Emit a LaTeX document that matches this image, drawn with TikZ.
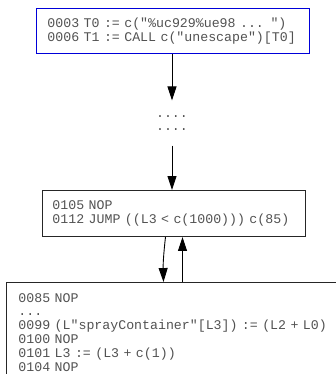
\documentclass[tikz,border=0pt]{standalone}
\usepackage{fontspec}
\setmonofont{Liberation Mono}
\usetikzlibrary{arrows.meta,calc}

% fixed-pitch listing font
\newcommand{\listingfont}{\ttfamily\fontsize{13.3}{14}\selectfont}

\tikzset{
  code/.style={draw=black!85, line width=1pt, rectangle, align=left,
    anchor=north west, font=\listingfont,
    text=black!68, inner ysep=0pt},
  flow/.style={line width=0.9pt, -{Triangle[length=14pt,width=9pt]}},
  gap/.style={font=\ttfamily\fontsize{13.3}{13}\selectfont, text=black!68,
    align=center, inner sep=0pt, minimum height=45pt},
}

\begin{document}
\begin{tikzpicture}[x=1bp, y=-1bp]
  \useasboundingbox (0,0) rectangle (336,374);
  \clip (0,0) rectangle (336,374);

  % entry block
  \node[code, draw=blue!85!black, minimum width=273bp, minimum height=45bp,
        inner xsep=11bp, text width=251bp] (entry) at (36,8)
    {0003 T0 := c("\%uc929\%ue98 ... ")\\
     0006 T1 := CALL c("unescape")[T0]};

  % elided blocks
  \node[gap] (skip) at (172,123) {....\\....};

  % loop header
  \node[code, minimum width=263bp, minimum height=46bp,
        inner xsep=10bp, text width=243bp] (head) at (42,190)
    {0105 NOP\\
     0112 JUMP ((L3 < c(1000))) c(85)};

  % loop body
  \node[code, minimum width=360bp, minimum height=100bp,
        inner xsep=12bp, text width=336bp] (body) at (6,282)
    {0085 NOP\\
     ...\\
     0099 (L"sprayContainer"[L3]) := (L2 + L0)\\
     0100 NOP\\
     0101 L3 := (L3 + c(1))\\
     0104 NOP};

  % control flow
  \draw[flow] (entry.south -| skip.north) -- (skip.north);
  \draw[flow] (skip.south) -- (skip.south |- head.north);
  \draw[flow] ([xshift=-8.5bp]head.south) to[bend right=4]
              ([xshift=-10.5bp]head.south |- body.north);
  \draw[flow] ([xshift=8.5bp]head.south |- body.north) -- ([xshift=8.5bp]head.south);
\end{tikzpicture}
\end{document}
